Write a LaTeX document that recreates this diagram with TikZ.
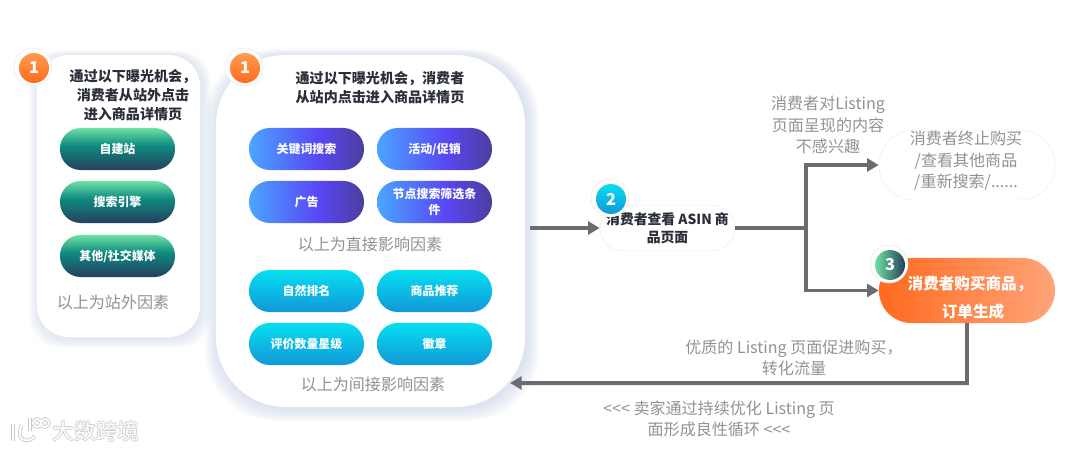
\documentclass[tikz,border=0pt]{standalone}
\usepackage{fontspec}
\usepackage{xcolor}
\setmainfont{Noto Sans CJK SC}
\usetikzlibrary{arrows.meta,calc,positioning}

\definecolor{flowgray}{HTML}{6B6B70}
\definecolor{notegray}{HTML}{929296}
\definecolor{titledark}{HTML}{2A2E38}
\definecolor{shadowblue}{HTML}{C9D2E6}
\definecolor{bluelt}{HTML}{4AA6FF}
\definecolor{bluemd}{HTML}{5946F5}
\definecolor{bluedk}{HTML}{4A3F9C}
\definecolor{cyanlt}{HTML}{06DFF0}
\definecolor{cyandk}{HTML}{1297D8}
\definecolor{greenlt}{HTML}{6FE0A4}
\definecolor{greenmd}{HTML}{0E8A80}
\definecolor{greendk}{HTML}{25405F}
\definecolor{orangelt}{HTML}{FF9C50}
\definecolor{orangedk}{HTML}{FF6A1E}
\definecolor{orderlt}{HTML}{FFA47A}

\pgfdeclareverticalshading{greenband}{100bp}{color(0bp)=(greendk); color(25bp)=(greendk); color(54bp)=(greenmd); color(75bp)=(greenlt); color(100bp)=(greenlt)}
\pgfdeclarehorizontalshading{blueband}{100bp}{color(0bp)=(bluelt); color(25bp)=(bluelt); color(55bp)=(bluemd); color(75bp)=(bluedk); color(100bp)=(bluedk)}

\tikzset{
  flow/.style={draw=flowgray,line width=3.4pt,line join=miter},
  flowtip/.style={flow,-{Triangle[length=10pt,width=11pt]}},
  note/.style={text=notegray,align=center,font=\fontsize{13.7}{18.2}\selectfont},
  cardtitle/.style={text=titledark,align=center,font=\fontsize{12}{16}\selectfont\bfseries},
  card/.style={fill=white,rounded corners=#1,inner sep=0pt},
  pill/.style={minimum width=3.45cm,minimum height=1.26cm,rounded corners=0.62cm,inner sep=0pt,
    text=white,align=center,font=\fontsize{10.2}{13.5}\selectfont\bfseries},
  greenpill/.style={pill,shade,shading=greenband},
  bluepill/.style={pill,shade,shading=blueband},
  cyanpill/.style={pill,top color=cyanlt,bottom color=cyandk},
  halo/.style={circle,minimum size=1.14cm,fill=white,draw=black!8,line width=0.5pt,inner sep=0pt},
  badge/.style={circle,minimum size=0.9cm,inner sep=0pt,text=white,font=\fontsize{14}{14}\selectfont\bfseries},
  orangebadge/.style={badge,top color=orangelt,bottom color=orangedk},
  orderline/.style={text=white,font=\fontsize{13.3}{13.3}\selectfont\bfseries},
}

% soft shadow behind a box: x1,y1,x2,y2,radius,steps
\newcommand{\softbox}[6]{
  \foreach \g in {1,...,#6}
    \fill[shadowblue,opacity=0.07,rounded corners=#5cm] (#1-\g+1,#2-\g*0.5) rectangle (#3+\g+2,#4+\g+2);
}

\begin{document}
\begin{tikzpicture}[x=0.03cm,y=-0.03cm]
  \useasboundingbox (0,0) rectangle (1080,450);

  % cards
  \softbox{37}{55}{200}{337}{0.95}{9}
  \softbox{216}{55}{525}{407}{2.1}{12}
  \node[card=0.95cm,minimum width=4.89cm,minimum height=8.46cm] (offcard) at (118.5,196) {};
  \node[card=2.1cm,minimum width=9.27cm,minimum height=10.56cm] (incard) at (370.5,231) {};

  \node[halo] (haloa) at (33,67) {};
  \node[orangebadge] (stepa) at (34,68) {1};
  \node[halo] (halob) at (244,67) {};
  \node[orangebadge] (stepb) at (245,68) {1};

  \node[cardtitle] (offtitle) at (133,95) {通过以下曝光机会，\\消费者从站外点击\\进入商品详情页};
  \node[cardtitle] (intitle) at (380,88) {通过以下曝光机会，消费者\\从站内点击进入商品详情页};

  \node[greenpill] (site) at (117.5,149) {自建站};
  \node[greenpill] (engine) at (117.5,202) {搜索引擎};
  \node[greenpill] (social) at (117.5,256) {其他/社交媒体};
  \node[note] (offnote) at (113,302) {以上为站外因素};

  \node[bluepill] (keyword) at (306.5,149) {关键词搜索};
  \node[bluepill] (promo) at (434.5,149) {活动/促销};
  \node[bluepill] (ads) at (306.5,202) {广告};
  \node[bluepill] (filter) at (434.5,202) {节点搜索筛选条\\件};
  \node[note] (directnote) at (370,244) {以上为直接影响因素};

  \node[cyanpill] (rank) at (306.5,291) {自然排名};
  \node[cyanpill] (recommend) at (434.5,291) {商品推荐};
  \node[cyanpill] (review) at (306.5,344) {评价数量星级};
  \node[cyanpill] (medal) at (434.5,344) {徽章};
  \node[note] (indirectnote) at (373,384) {以上为间接影响因素};

  % asin page
  \node[minimum width=4.05cm,minimum height=1.35cm,rounded corners=0.67cm,draw=black!7,fill=white,
    inner sep=0pt,align=center,text=titledark,font=\fontsize{11.8}{15}\selectfont\bfseries] (asin) at (667.5,228) {消费者查看 ASIN 商\\品页面};
  \node[halo] (haloc) at (610,198) {};
  \node[badge,top color=cyanlt,bottom color=cyandk] (stepc) at (611,199) {2};

  % end boxes
  \node[minimum width=5.28cm,minimum height=2.1cm,rounded corners=1.05cm,draw=black!7,fill=white,
    inner sep=0pt] (leave) at (967,165) {};
  \node[note] (leavetext) at (966,161) {消费者终止购买\\/查看其他商品\\/重新搜索/......};
  \node[minimum width=5.28cm,minimum height=1.95cm,rounded corners=0.97cm,inner sep=0pt,
    left color=orangedk,right color=orderlt] (order) at (967,290.5) {};
  \node[orderline] (ordera) at (970,284) {消费者购买商品，};
  \node[orderline] (orderb) at (973,312) {订单生成};
  \node[halo] (halod) at (889,264) {};
  \node[badge,left color=greenlt,right color=greendk] (stepd) at (890,265) {3};

  % connectors
  \coordinate (start) at (530,228);
  \coordinate (fork) at (806,228);
  \coordinate (back) at ($(order.south)+(0,60)$);
  \coordinate (backend) at (510,383);
  \draw[flowtip] (start) -- (asin.west);
  \draw[flow] (asin.east) -- (fork);
  \draw[flowtip] (fork) |- (leave.west);
  \draw[flowtip] (fork) |- (order.west);
  \draw[flowtip] (order.south) -- (back) -- (backend);

  % notes
  \node[note] (dislike) at (828,125) {消费者对Listing\\页面呈现的内容\\不感兴趣};
  \node[note] (quality) at (794,358) {优质的 Listing 页面促进购买，\\转化流量};
  \node[note] (loop) at (719,419) {<{}<{}< 卖家通过持续优化 Listing 页\\面形成良性循环 <{}<{}<};

  % watermark
  \foreach \dx/\dy in {-1/0,1/0,0/-1,0/1}
    \node[text=black!18,font=\fontsize{18.5}{18.5}\selectfont] at (96+\dx,431+\dy) {大数跨境};
  \node[text=white,font=\fontsize{18.5}{18.5}\selectfont] (mark) at (96,431) {大数跨境};
  \foreach \col/\wid in {black!22/3pt,white/1.6pt}{
    \draw[\col,line width=\wid] (13,424) -- (13,441);
    \draw[\col,line width=\wid] (35,436) .. controls (28,445) and (14,440) .. (22,425);
    \draw[\col,line width=\wid] (30,418) -- (30,431);
    \draw[\col,line width=\wid] (37,423) circle (4);
    \draw[\col,line width=\wid] (45,423) circle (4);
  }
\end{tikzpicture}
\end{document}
